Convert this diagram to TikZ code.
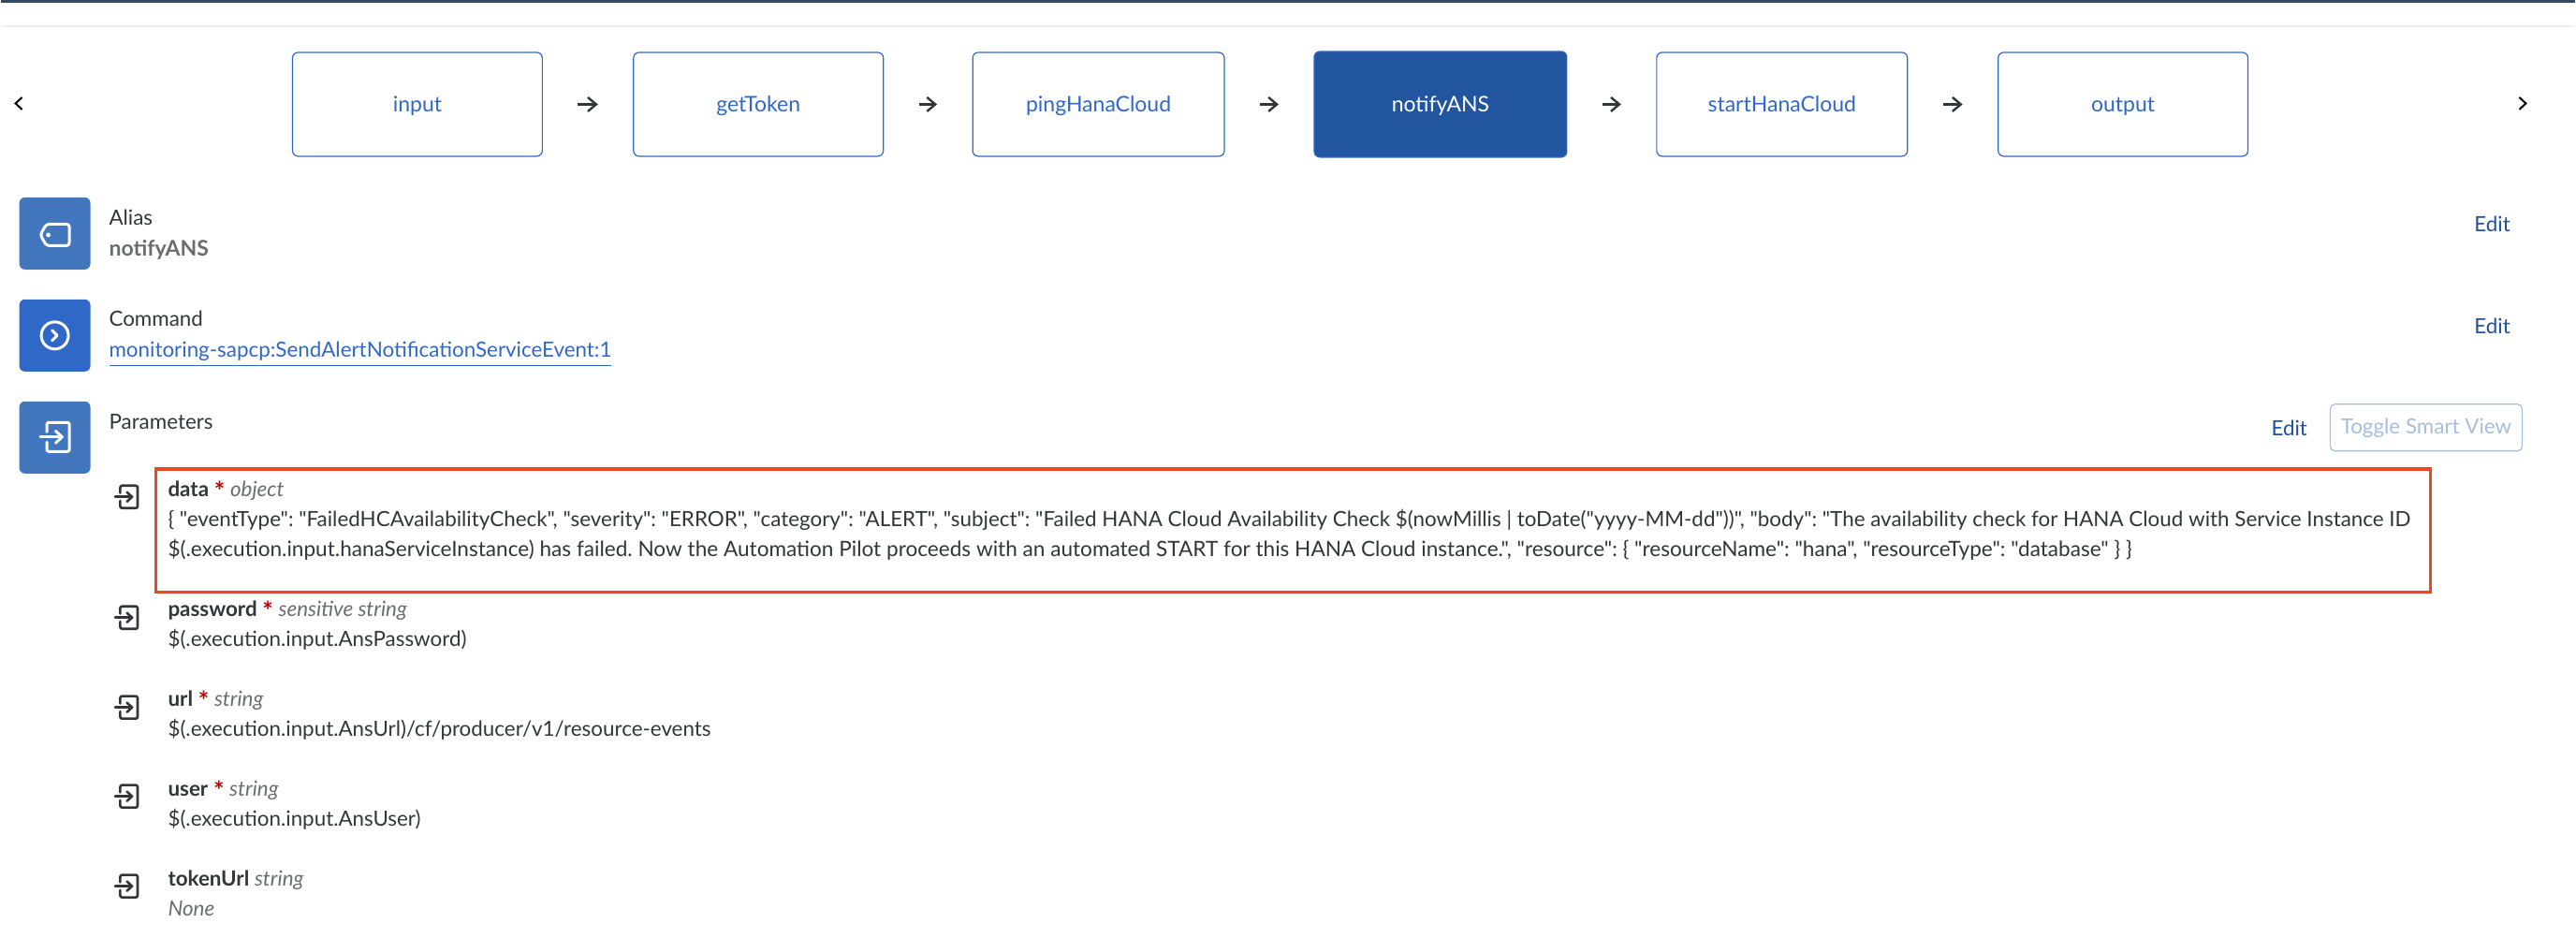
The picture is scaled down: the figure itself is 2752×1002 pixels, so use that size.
\documentclass[tikz,border=0pt]{standalone}
\usepackage{fontspec}
\setmainfont{Lato}[Ligatures=TeXOff]
\usetikzlibrary{arrows.meta,shadows}

\definecolor{stepblue}{HTML}{3068C8}
\definecolor{stepdark}{HTML}{2255A0}
\definecolor{iconblue}{HTML}{4276BD}
\definecolor{editblue}{HTML}{20509E}
\definecolor{palebtn}{HTML}{A6BDE0}
\definecolor{inktext}{HTML}{32363A}
\definecolor{softtext}{HTML}{6A6D70}
\definecolor{starred}{HTML}{BB0000}
\definecolor{markred}{HTML}{EE4428}
\definecolor{topbar}{HTML}{354A5F}

\newcommand{\param}[3]{{\bfseries #1}#2 {\color{softtext}\itshape #3}}
\newcommand{\reqstar}{ \raisebox{-4pt}{\color{starred}\bfseries\fontsize{27}{27}\selectfont *}}

\begin{document}
\begin{tikzpicture}[
		x=1pt, y=-1pt,
		every node/.append style={inner sep=0pt, outer sep=0pt, font=\fontsize{22.4}{27}\selectfont\frenchspacing, text=inktext},
		stepbox/.style={draw=stepblue, line width=1.2pt, rounded corners=6pt, minimum height=111pt, text=stepblue, font=\fontsize{23}{27}\selectfont, text height=20pt, text depth=3pt},
		stepactive/.style={stepbox, fill=stepdark, text=white, minimum height=113pt},
		steparrow/.style={-{Straight Barb[length=9pt,width=15pt]}, line width=2.4pt, draw=inktext, shorten <=38pt, shorten >=38pt},
		iconbox/.style={fill=iconblue, rounded corners=6pt, minimum width=76pt, minimum height=77pt},
		label/.style={anchor=base west},
		editlink/.style={anchor=base west, text=editblue},
		chevron/.style={line width=2pt, draw=black},
		whiteicon/.style={line width=3pt, draw=white, line join=round, line cap=round},
		darkicon/.style={line width=2.6pt, draw=inktext, line join=round, line cap=round},
		entericon/.pic={
			\draw[pic actions, rounded corners=2pt] (-0.55,-0.35) -- (-0.55,-1) -- (1,-1) -- (1,1) -- (-0.55,1) -- (-0.55,0.35);
			\draw[pic actions] (-1,0) -- (0.5,0);
			\draw[pic actions] (0.05,-0.42) -- (0.5,0) -- (0.05,0.42);
		}
		]
		
		% Top bar
		\fill[topbar] (0,0) rectangle (2752,2.5);
		\draw[draw=black!7, line width=1.2pt] (0,28) -- (2752,28);
		
		% Steps
		\node[stepbox, minimum width=267pt] (input) at (445.5,111.5) {input};
		\node[stepbox, minimum width=267pt] (getToken) at (810,111.5) {getToken};
		\node[stepbox, minimum width=269pt] (pingHanaCloud) at (1173.5,111.5) {pingHanaCloud};
		\node[stepactive, minimum width=270pt] (notifyANS) at (1539,111.5) {notifyANS};
		\node[stepbox, minimum width=268pt] (startHanaCloud) at (1904,111.5) {startHanaCloud};
		\node[stepbox, minimum width=267pt] (output) at (2268.5,111.5) {output};
		
		\draw[steparrow] (input) -- (getToken);
		\draw[steparrow] (getToken) -- (pingHanaCloud);
		\draw[steparrow] (pingHanaCloud) -- (notifyANS);
		\draw[steparrow] (notifyANS) -- (startHanaCloud);
		\draw[steparrow] (startHanaCloud) -- (output);
		
		% Scroll chevrons
		\draw[chevron] (23,104) -- (16,110.5) -- (23,117);
		\draw[chevron] (2692,104) -- (2699,110.5) -- (2692,117);
		
		% Alias
		\node[iconbox] (aliasIcon) at (58,249.5) {};
		\draw[whiteicon, rounded corners=3pt] (49,239.5) -- (73.5,239.5) -- (73.5,262.5) -- (49,262.5) -- (42.5,251) -- cycle;
		\fill[white] (51,251) circle (2.4pt);
		\node[label] (aliasTitle) at (116,241) {Alias};
		\node[label, text=softtext, font=\fontsize{23}{27}\selectfont\bfseries] (aliasValue) at (116,274) {notifyANS};
		\node[editlink] (aliasEdit) at (2644,247.5) {Edit};
		
		% Command
		\node[iconbox, fill=stepblue] (commandIcon) at (58,358.5) {};
		\draw[whiteicon] (58,358.5) circle (14.5pt);
		\draw[whiteicon] (55,353) -- (60.5,358.5) -- (55,364);
		\node[label] (commandTitle) at (116,349) {Command};
		\node[label, text=stepblue] (commandValue) at (116,382) {monitoring-sapcp:SendAlertNotificationServiceEvent:1};
		\draw[stepblue, line width=1.2pt] ([yshift=-9pt]commandValue.base west) -- ([yshift=-9pt]commandValue.base east);
		\node[editlink] (commandEdit) at (2644,356.5) {Edit};
		
		% Parameters
		\node[iconbox] (parametersIcon) at (58,467.5) {};
		\pic[whiteicon, scale=15.5] at (58,467) {entericon};
		\node[label] (parametersTitle) at (116,459) {Parameters};
		\node[editlink] (parametersEdit) at (2427,465.5) {Edit};
		\node[draw=palebtn, line width=1.2pt, rounded corners=5pt, minimum width=205pt, minimum height=50pt, text=palebtn] (toggleView) at (2592.5,457) {Toggle Smart View};
		
		% Highlight
		\node[draw=markred, line width=3.5pt, fill=white, minimum width=2431pt, minimum height=132pt, drop shadow={shadow xshift=1pt, shadow yshift=-2pt, opacity=0.3}] (dataMark) at (1381.5,567) {};
		
		% Parameter rows
		\pic[darkicon, scale=12] at (134.5,531) {entericon};
		\node[label] (dataName) at (179,531) {\param{data}{\reqstar}{object}};
		\node[label] (dataLineA) at (179,563) {\{ "eventType": "FailedHCAvailabilityCheck", "severity": "ERROR", "category": "ALERT", "subject": "Failed HANA Cloud Availability Check \$(nowMillis | toDate("yyyy-MM-dd"))", "body": "The availability check for HANA Cloud with Service Instance ID};
		\node[label, font=\fontsize{22.6}{27}\selectfont\frenchspacing] (dataLineB) at (179,595) {\$(.execution.input.hanaServiceInstance) has failed. Now the Automation Pilot proceeds with an automated START for this HANA Cloud instance.", "resource": \{ "resourceName": "hana", "resourceType": "database" \} \}};
		
		\pic[darkicon, scale=12] at (134.5,660) {entericon};
		\node[label] (passwordName) at (179,659) {\param{password}{\reqstar}{sensitive string}};
		\node[label] (passwordValue) at (179,691) {\$(.execution.input.AnsPassword)};
		
		\pic[darkicon, scale=12] at (134.5,756) {entericon};
		\node[label] (urlName) at (179,755) {\param{url}{\reqstar}{string}};
		\node[label] (urlValue) at (179,787) {\$(.execution.input.AnsUrl)/cf/producer/v1/resource-events};
		
		\pic[darkicon, scale=12] at (134.5,851) {entericon};
		\node[label] (userName) at (179,851) {\param{user}{\reqstar}{string}};
		\node[label] (userValue) at (179,883) {\$(.execution.input.AnsUser)};
		
		\pic[darkicon, scale=12] at (134.5,947) {entericon};
		\node[label] (tokenUrlName) at (179,947) {\param{tokenUrl}{}{string}};
		\node[label, text=softtext, font=\fontsize{22.4}{27}\selectfont\itshape] (tokenUrlValue) at (179,979) {None};
		
		\useasboundingbox (0,0) rectangle (2752,1002);
	\end{tikzpicture}
\end{document}
